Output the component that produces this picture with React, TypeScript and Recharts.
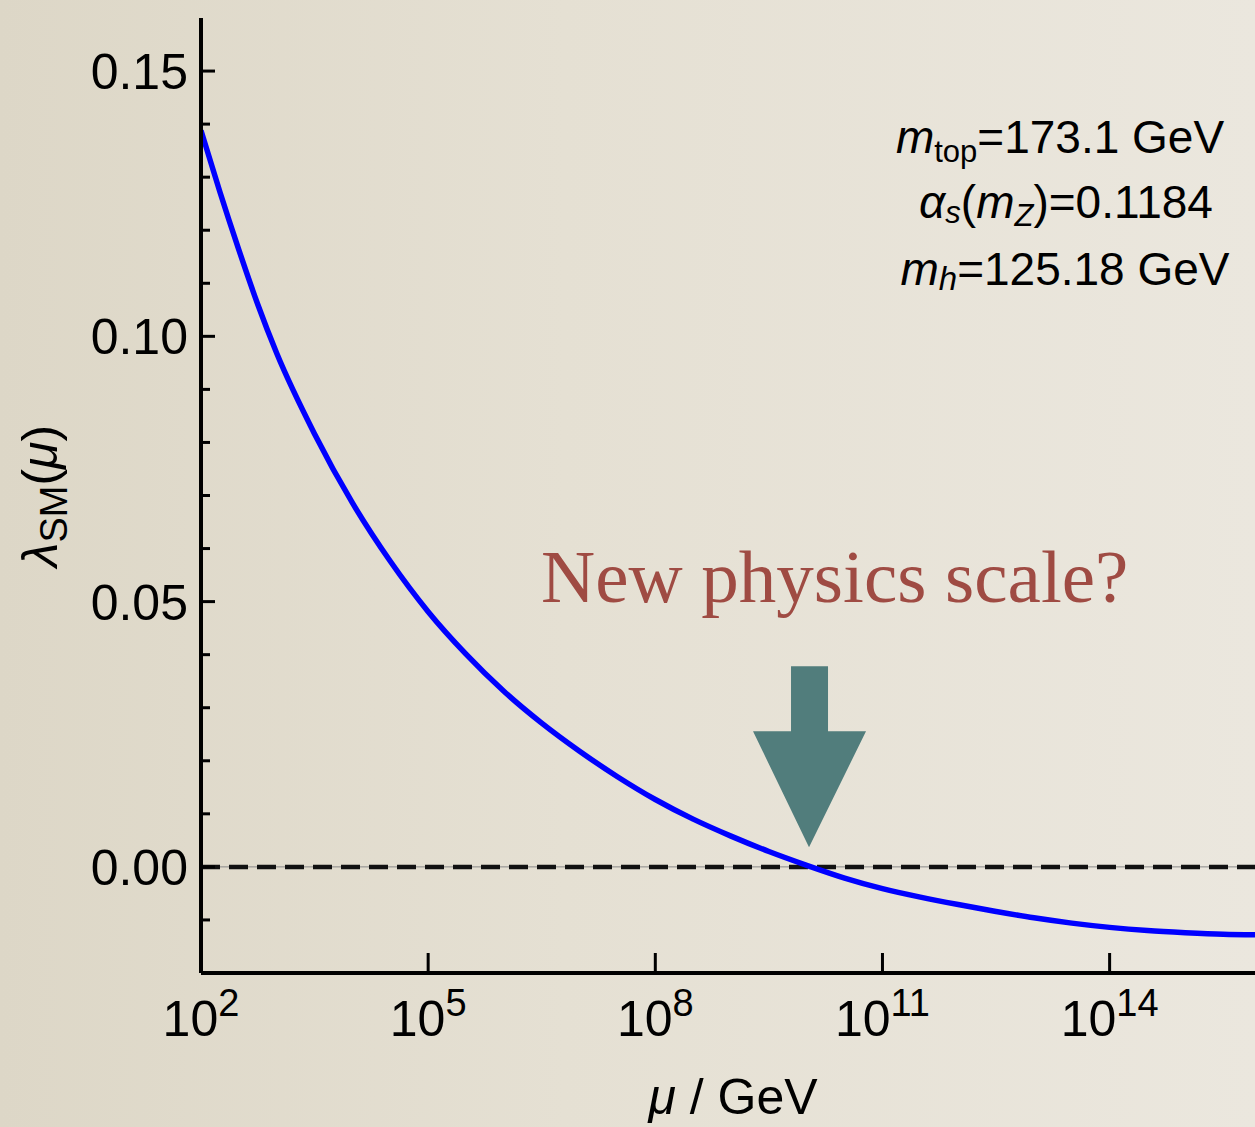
import React from "react"
import {
  LineChart,
  Line,
  XAxis,
  YAxis,
  ReferenceLine,
  ReferenceDot,
} from "recharts"

// log10(mu / GeV) and lambda_SM(mu)
const logMu = [
  2.0, 2.25, 2.5, 2.75, 3.0, 3.5, 4.0, 4.5, 5.0, 5.5, 6.0, 6.5, 7.0, 7.5, 8.0,
  8.5, 9.0, 9.5, 10.0, 10.5, 11.0, 11.5, 12.0, 12.5, 13.0, 13.5, 14.0, 14.5,
  15.0, 15.5, 15.92,
]
const lambdaSM = [
  0.1388, 0.1272, 0.1163, 0.106, 0.0968, 0.0816, 0.0686, 0.0576, 0.0481,
  0.0401, 0.0331, 0.0271, 0.0218, 0.017, 0.0127, 0.009, 0.0058, 0.0029,
  0.0003, -0.0021, -0.0041, -0.0057, -0.0071, -0.0084, -0.0096, -0.0106,
  -0.0114, -0.012, -0.0124, -0.0127, -0.0128,
]

const xTicks = [2, 5, 8, 11, 14]
const yTicks = [
  -0.01, 0, 0.01, 0.02, 0.03, 0.04, 0.05, 0.06, 0.07, 0.08, 0.09, 0.1, 0.11,
  0.12, 0.13, 0.14, 0.15,
]
const xDomain = [2, 15.92]
const yDomain = [-0.02, 0.16]

// where the arrow tip points (log10 mu, lambda)
const arrowTip = { x: 10.03, y: 0.0037 }

const data = logMu.map((m, i) => ({ logMu: m, lambda: lambdaSM[i] }))

const SANS = "'Liberation Sans', Arial, Helvetica, sans-serif"
const SERIF = "'Liberation Serif', 'Times New Roman', serif"

function YTick(props: any) {
  const { x, y, payload } = props
  const v = payload.value as number
  const major = Math.round(v * 100) % 5 === 0
  return (
    <g>
      <line x1={x} x2={x + (major ? 14 : 9)} y1={y} y2={y} stroke="#000" strokeWidth={3} />
      {major && (
        <text x={x - 13} y={y + 18} textAnchor="end" fontSize={50} fontFamily={SANS} fill="#000">
          {v.toFixed(2)}
        </text>
      )}
    </g>
  )
}

function XTick(props: any) {
  const { x, y, payload } = props
  return (
    <g>
      <line x1={x} x2={x} y1={y} y2={y - 20} stroke="#000" strokeWidth={3} />
      <text x={x} y={y + 63} textAnchor="middle" fontSize={50} fontFamily={SANS} fill="#000">
        <tspan>10</tspan>
        <tspan fontSize={38} dy={-20}>
          {payload.value}
        </tspan>
      </text>
    </g>
  )
}

function Arrow(props: any) {
  const { cx, cy } = props
  const pts = [
    [cx - 18, cy - 181],
    [cx + 19, cy - 181],
    [cx + 19, cy - 116],
    [cx + 57, cy - 116],
    [cx, cy],
    [cx - 56, cy - 116],
    [cx - 18, cy - 116],
  ]
  return <polygon points={pts.map((p) => p.join(",")).join(" ")} fill="#517d7c" />
}

export default function App() {
  return (
    <div
      style={{
        position: "absolute",
        left: 0,
        top: 0,
        width: 1255,
        height: 1127,
        overflow: "hidden",
        background: "linear-gradient(90deg, #ddd7c7 0%, #e5e0d3 45%, #ebe7de 100%)",
      }}
    >
      <LineChart
        width={1255}
        height={1127}
        data={data}
        margin={{ top: 18, right: 0, bottom: 0, left: 0 }}
      >
        <XAxis
          dataKey="logMu"
          type="number"
          domain={xDomain}
          ticks={xTicks}
          interval={0}
          allowDataOverflow
          height={154}
          tickSize={0}
          tickMargin={0}
          tickLine={false}
          tick={<XTick />}
          axisLine={{ stroke: "#000", strokeWidth: 4 }}
        />
        <XAxis
          xAxisId="top"
          orientation="top"
          type="number"
          domain={xDomain}
          height={0}
          tick={false}
          tickLine={false}
          axisLine={{ stroke: "#000", strokeWidth: 4 }}
        />
        <YAxis
          type="number"
          domain={yDomain}
          ticks={yTicks}
          interval={0}
          allowDataOverflow
          width={201}
          tickSize={0}
          tickMargin={0}
          tickLine={false}
          tick={<YTick />}
          axisLine={{ stroke: "#000", strokeWidth: 4 }}
        />
        <ReferenceLine y={0} stroke="#888" strokeWidth={1} />
        <ReferenceLine y={0} stroke="#111" strokeWidth={4.5} strokeDasharray="19 9" />
        <Line
          dataKey="lambda"
          type="monotone"
          stroke="#0000ff"
          strokeWidth={5.5}
          dot={false}
          isAnimationActive={false}
        />
        <ReferenceDot x={arrowTip.x} y={arrowTip.y} r={0} shape={Arrow} />
      </LineChart>

      <svg
        width={1255}
        height={1127}
        style={{ position: "absolute", left: 0, top: 0, pointerEvents: "none" }}
      >
        <text
          transform="translate(57, 496) rotate(-90)"
          textAnchor="middle"
          fontFamily={SANS}
          fontSize={50}
          fill="#000"
        >
          <tspan fontStyle="italic">λ</tspan>
          <tspan fontSize={38} dy={10}>SM</tspan>
          <tspan dy={-10}>(</tspan>
          <tspan fontStyle="italic">μ</tspan>
          <tspan>)</tspan>
        </text>
        <text x={733} y={1114} textAnchor="middle" fontFamily={SANS} fontSize={50} fill="#000">
          <tspan fontStyle="italic">μ</tspan>
          <tspan> / GeV</tspan>
        </text>

        <text x={1060} y={153} textAnchor="middle" fontFamily={SANS} fontSize={46} fill="#000">
          <tspan fontStyle="italic">m</tspan>
          <tspan fontSize={31} dy={9}>top</tspan>
          <tspan dy={-9}>=173.1  GeV</tspan>
        </text>
        <text x={1066} y={218} textAnchor="middle" fontFamily={SANS} fontSize={46} fill="#000">
          <tspan fontStyle="italic">α</tspan>
          <tspan fontSize={31} dy={5} fontStyle="italic">s</tspan>
          <tspan dy={-5}>(</tspan>
          <tspan fontStyle="italic">m</tspan>
          <tspan fontSize={31} dy={8} fontStyle="italic">Z</tspan>
          <tspan dy={-8}>)=0.1184</tspan>
        </text>
        <text x={1065} y={285} textAnchor="middle" fontFamily={SANS} fontSize={46} fill="#000">
          <tspan fontStyle="italic">m</tspan>
          <tspan fontSize={33} dy={5} fontStyle="italic">h</tspan>
          <tspan dy={-5}>=125.18 GeV</tspan>
        </text>

        <text x={541} y={602} fontFamily={SERIF} fontSize={75} fill="#9f4b43">
          New physics scale?
        </text>
      </svg>
    </div>
  )
}
